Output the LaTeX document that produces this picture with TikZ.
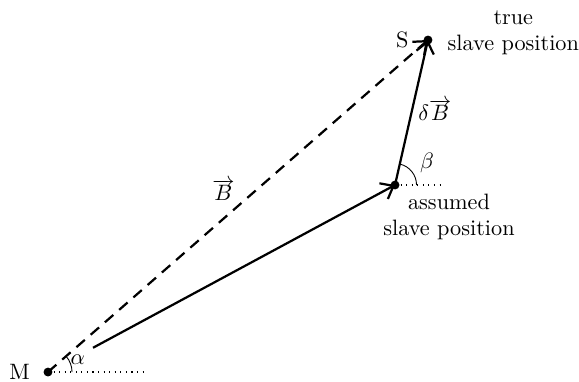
\documentclass[tikz,border=0pt]{standalone}
\usepackage{tikz}
\usetikzlibrary{arrows.meta, positioning, calc}

\begin{document}
\begin{tikzpicture}[
    point/.style = {circle, fill=black, inner sep=0pt, minimum size=4pt},
    vec/.style = {-{Straight Barb[length=5pt, width=8pt]}, line width=1pt},
    dvec/.style = {vec, dash pattern=on 5pt off 3.5pt},
    base/.style = {dotted, line width=0.5pt},
    angarc/.style = {thin}
]
\useasboundingbox (0,0) rectangle (9.148,6.02);

% Points
\node[point] (M) at (0.758,0.142) {};
\node[point] (S) at (6.762,5.388) {};
\node[point] (A) at (6.241,3.097) {};
\coordinate (Mh) at (2.338,0.142);
\coordinate (Ah) at (6.984,3.097);

% Labels
\node[left=0.28cm of M.center, anchor=east, inner sep=0pt] (Mlab) {M};
\node[left=0.3cm of S.center, anchor=east, inner sep=0pt] (Slab) {S};
\node[align=center] (true) at (8.11,5.5) {true\\slave position};
\node[align=center] (assumed) at (7.094,2.591) {assumed\\slave position};
\node[inner sep=1pt] (Blab) at (3.53,3.02) {$\overrightarrow{B}$};
\node[inner sep=1pt] (dBlab) at (6.87,4.282) {$\delta\overrightarrow{B}$};
\node[inner sep=1pt] (beta) at (6.747,3.444) {$\beta$};
\node[inner sep=1pt] (alpha) at (1.23,0.33) {$\alpha$};

% Reference lines
\draw[base] (M.center) -- (Mh);
\draw[base] (A.center) -- (Ah);

% Angles
\draw[angarc] ($(M.center)+(0.38,0)$) arc[start angle=0, end angle=41, radius=0.38];
\draw[angarc] ($(A.center)+(0.34,0)$) arc[start angle=0, end angle=77, radius=0.34];

% Edges
\draw[dvec] (M.center) -- (S.center);
\draw[vec, shorten <=23pt] (M.center) -- (A.center);
\draw[vec] (A.center) -- (S.center);

\end{tikzpicture}
\end{document}
